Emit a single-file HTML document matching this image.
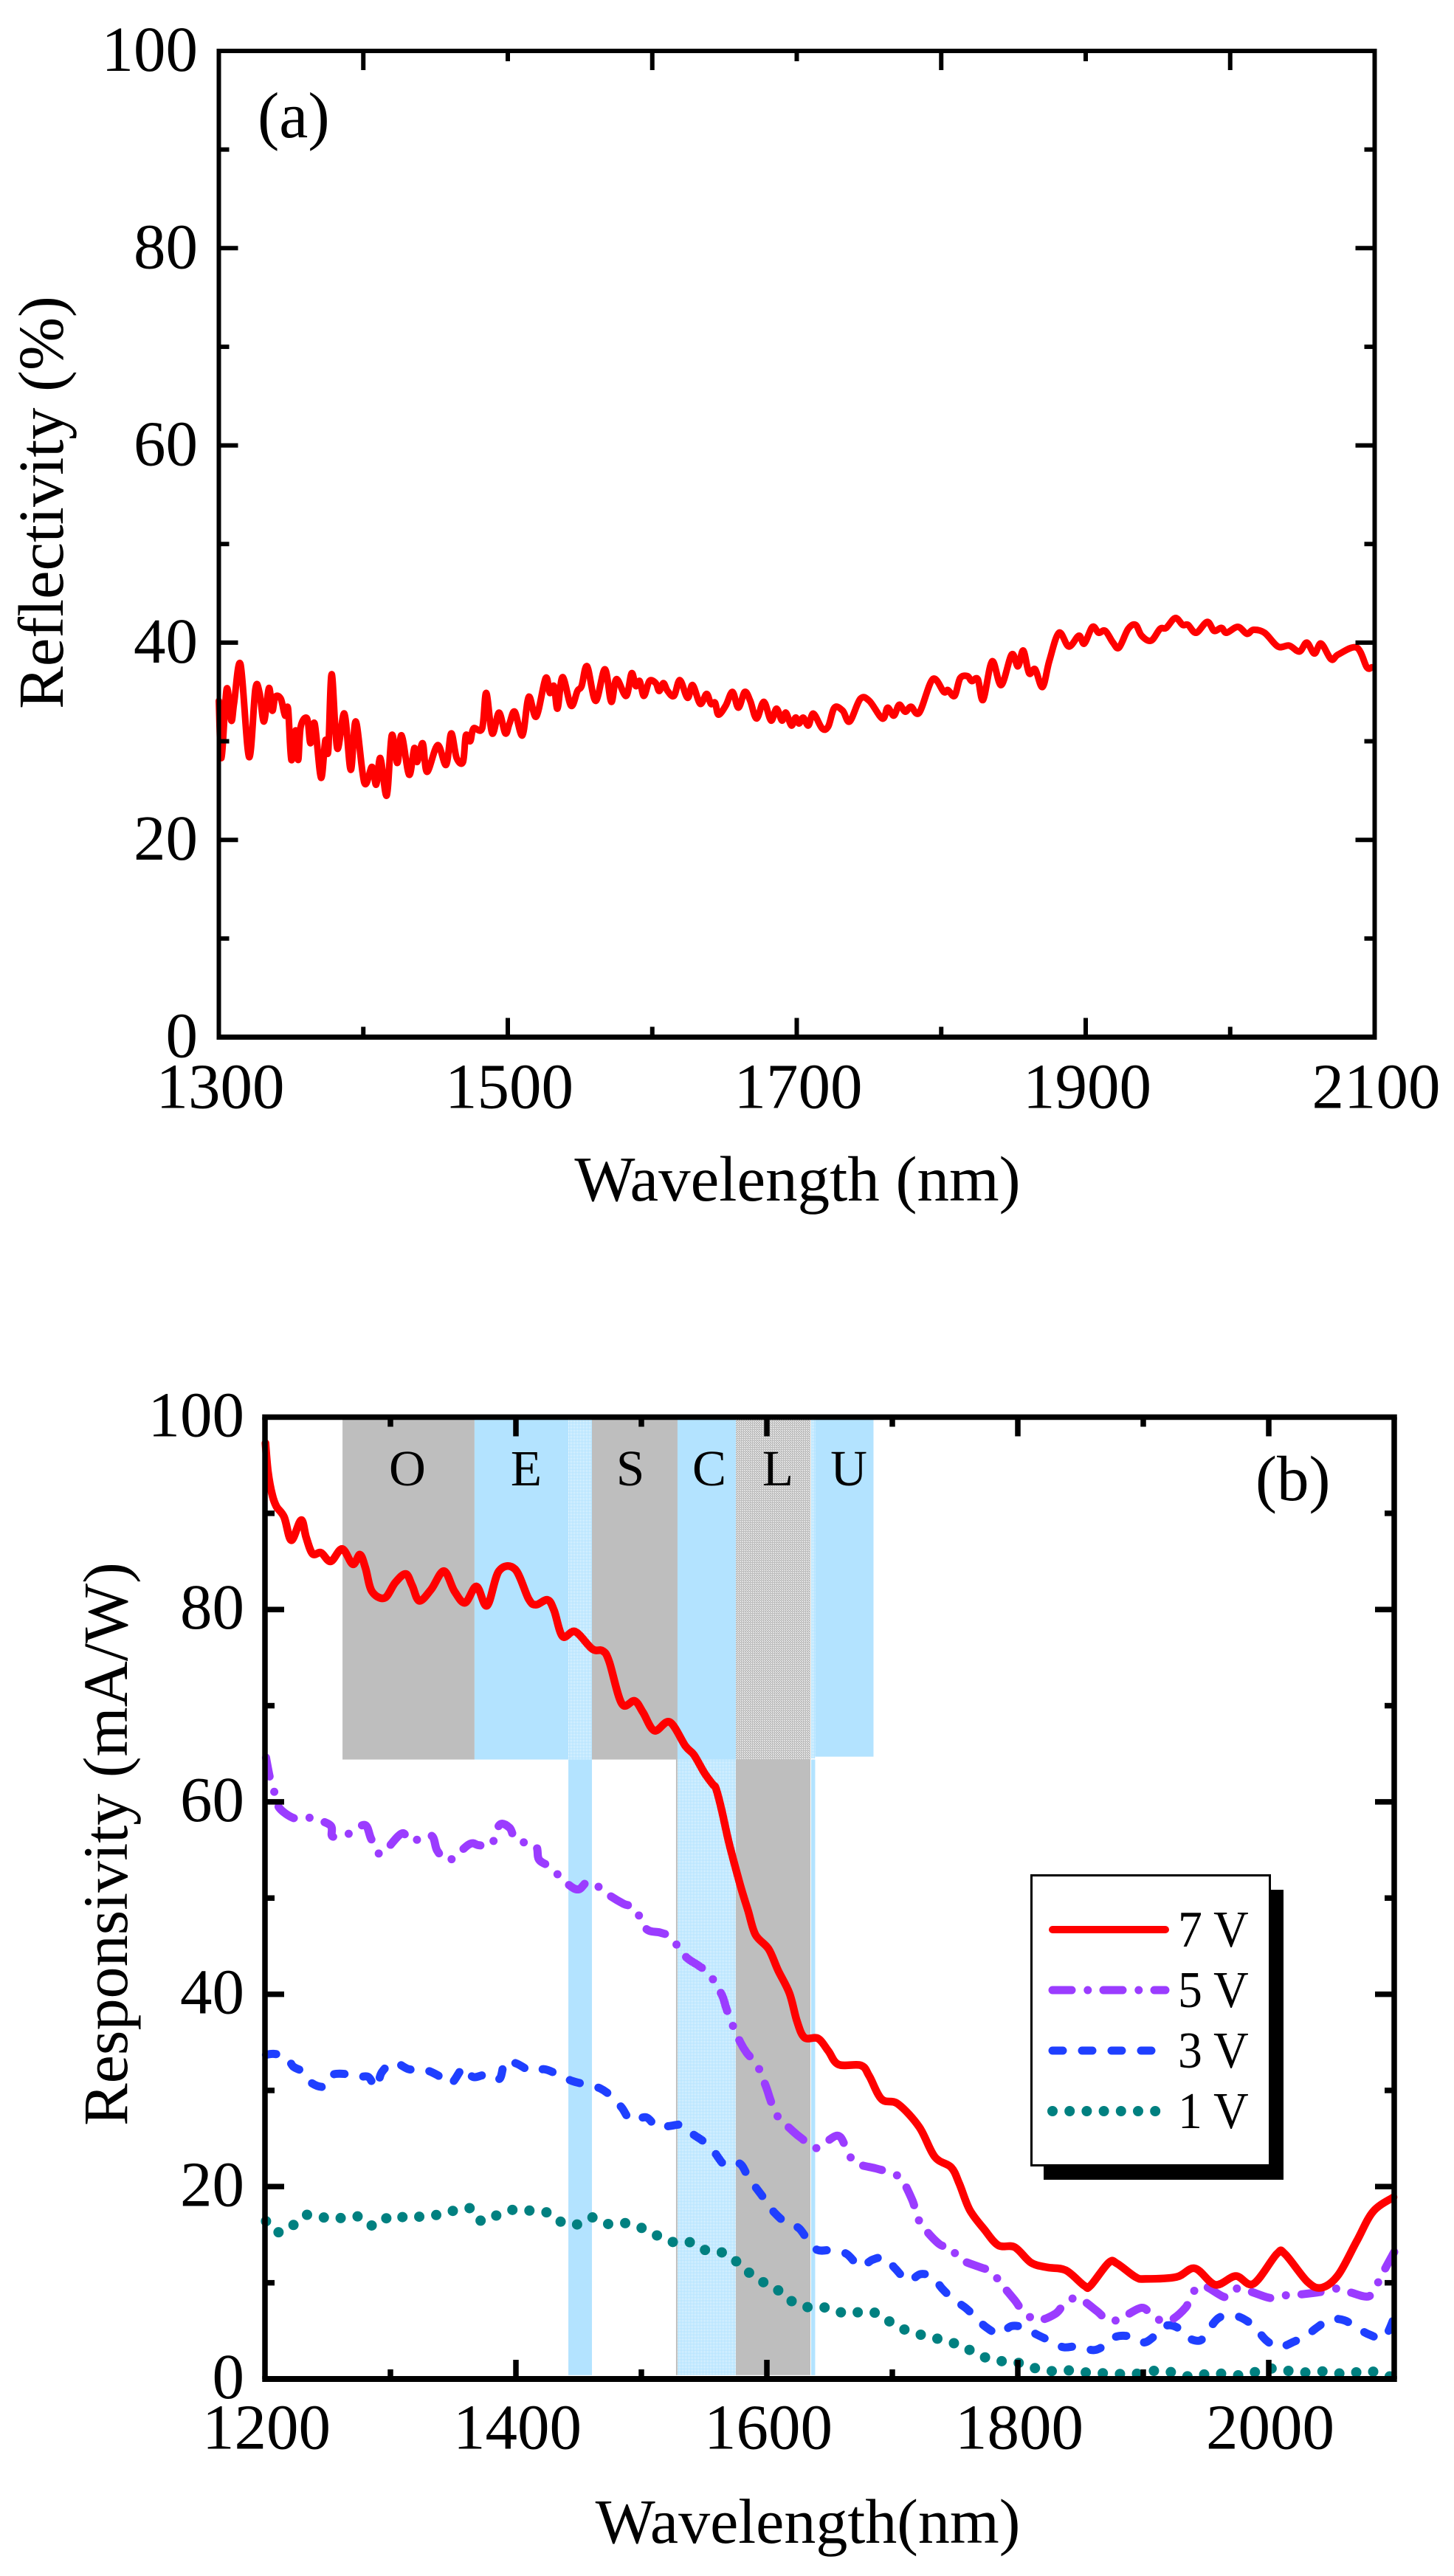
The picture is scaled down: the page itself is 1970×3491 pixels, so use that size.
<!DOCTYPE html>
<html lang="en">
<head>
<meta charset="utf-8">
<title>Reflectivity and responsivity spectra</title>
<style>
html,body{margin:0;padding:0;background:#fff;}
svg{display:block;}
text{font-family:"Liberation Serif",serif;fill:#000;}
</style>
</head>
<body>
<svg id="figure" xmlns="http://www.w3.org/2000/svg" width="1970" height="3491" viewBox="0 0 1970 3491">
  <defs>
    <pattern id="dither-blue" patternUnits="userSpaceOnUse" width="2" height="2"><rect width="2" height="2" fill="#b3e3ff"/><rect width="1" height="1" fill="#fff"/></pattern>
    <pattern id="dither-gray" patternUnits="userSpaceOnUse" width="3" height="3"><rect width="3" height="3" fill="#bebebe"/><rect width="1" height="1" fill="#fff"/><rect x="1" y="1" width="1" height="1" fill="#fff"/></pattern>
  </defs>
  <rect width="1970" height="3491" fill="#fff"/>
</svg>
<script>
// ---- Panel (a) data ----
const aWavelength = [1300,1301.8,1305.4,1308.6,1310.6,1315,1320.9,1325.3,1328.2,1331.2,1334.7,1337,1339.1,1342.9,1345.8,1347.9,1350.2,1353.2,1354.9,1356.7,1361.1,1363.4,1366.3,1370.7,1373.7,1375.7,1378.1,1381.9,1386.9,1391.3,1394.8,1400.7,1406,1408.9,1411.8,1416.2,1419.7,1423.5,1426.5,1431.7,1435.3,1437.3,1441.1,1444.1,1451.4,1457.3,1460.8,1464.6,1469,1471,1474,1476.3,1482.2,1485.1,1489.2,1493.9,1498.3,1501.2,1504.8,1510.1,1514.5,1519.7,1526.2,1529.1,1532,1534.4,1537.9,1543.8,1548.2,1551.1,1554.9,1560.8,1567.2,1571.6,1575.2,1581.9,1585.7,1588.6,1591.3,1594.2,1598,1602.4,1604.8,1607.7,1610.6,1615,1619.1,1624.4,1627.9,1633.2,1637.6,1640.6,1643.5,1645.8,1650.8,1655.5,1659.6,1664,1667.8,1672.2,1677.2,1682.2,1686,1689.8,1692.5,1696.3,1699.2,1701.6,1704.5,1708,1711.5,1717.6,1721.8,1726.1,1731.8,1736.6,1744,1750.2,1759.3,1762.9,1767.2,1770.9,1775.1,1779.1,1784.8,1794.1,1801.8,1804.6,1809.2,1813.1,1818.2,1821.1,1825.3,1829,1835.2,1841.5,1848.8,1853.1,1856.8,1860.8,1865,1870.1,1874.9,1881.5,1888.3,1895.3,1899,1904.7,1909,1913.5,1918.9,1923.1,1929.4,1934.5,1938.7,1945.2,1951.5,1955.7,1962,1967.1,1970.8,1976.4,1984.1,1988.9,1994,1997.4,2005.3,2011.6,2016.1,2023.8,2033.1,2040.8,2047.9,2053,2058.3,2062.9,2070,2074.8,2087.6,2094.6,2098];
const aReflectivity = [34.1,28.3,35.3,32.1,33.9,37.8,28.4,35.3,34.9,32,35.4,33.1,34.5,34.3,32.6,33.3,28.1,31.1,28.1,31.5,32.3,29.8,31.8,26.3,30.1,29,36.8,29.3,32.8,27.1,32,25.8,27.4,25.6,28.3,24.5,30.6,27.8,30.6,26.6,29.3,27.9,29.8,26.9,29.6,27.6,30.8,28.3,27.9,30.6,30,31.3,31.3,34.9,30.8,32.9,30.8,31.8,33,30.6,34.5,32.5,36.4,34.9,35.6,33.3,36.5,33.6,35.1,35.6,37.6,34.1,37.3,34,36.3,34.6,36.9,35.6,36.1,34.6,36.1,35.9,35.1,35.9,35.1,34.6,36.2,34.4,35.7,33.8,34.8,33.8,33.9,32.7,33.6,35,33.4,35,34.1,32.3,34,32.1,33.3,32.1,32.9,31.6,32.4,31.8,32.4,31.6,32.8,31.3,31.5,33.4,33.1,32,34.3,34.1,32.3,33.4,32.6,33.7,33,33.5,32.9,36.3,35,35.2,34.6,36.4,36.6,36.1,36.3,34.2,38.1,35.7,38.8,37.6,39.2,36.9,37.3,35.5,38.2,41,39.6,40.7,39.9,41.6,41,41.2,40,39.5,41.4,41.8,40.7,40.2,41.4,41.5,42.5,41.8,41.8,41,42.1,41.2,41.5,41,41.6,40.9,41.3,41,39.6,39.7,39.1,40,38.9,39.9,38.3,38.8,39.5,37.5,37.5];
const aXTickValues = [1300,1400,1500,1600,1700,1800,1900,2000,2100];
const aXTickLabels = [1300,1500,1700,1900,2100];
const aYTickValues = [0,10,20,30,40,50,60,70,80,90,100];
const aYTickLabels = [0,20,40,60,80,100];

// ---- Panel (b) data ----
const wl7V = [1200.4,1202.4,1205.8,1209.2,1215.3,1221,1228.8,1232.8,1237.9,1244.7,1252.4,1261.5,1270,1275.7,1280.1,1285.2,1295.3,1303.8,1312.2,1317.3,1323,1332.5,1342.6,1351,1359.5,1368.6,1377,1386.5,1399.3,1410.1,1415.9,1425.3,1430.4,1437.2,1447.3,1460.8,1469.2,1474.3,1484.4,1494.6,1501.3,1510.4,1522.6,1535.1,1541.8,1550.3,1557,1559.4,1563.9,1569.9,1578.9,1585,1590.9,1601.4,1608.9,1618,1624,1630,1640.8,1649,1657.1,1675,1681.6,1691.4,1704.4,1721.4,1733.8,1746.9,1753.4,1761.6,1773,1784.4,1797.5,1810.5,1823.6,1838.3,1853,1857.9,1872.5,1879.1,1893.8,1901.9,1926.4,1941.1,1957.4,1973.7,1987.8,2006.4,2012.9,2030.9,2042.3,2055.3,2070,2083.1,2099.4];
const resp7V = [97.3,94.3,91.9,90.7,89.6,87.2,89.3,87.5,85.8,85.9,85,86.3,84.7,85.7,84.3,81.9,81.2,82.8,83.7,82.5,80.9,82.1,84,81.9,80.7,82.4,80.4,84,84.2,81.1,80.5,81,79.9,77.2,77.7,75.9,75.7,74.6,70.2,70.5,69.3,67.4,68.3,65.8,64.9,63,61.8,61.4,59.2,55.7,51.3,48.7,46.2,44.7,42.5,40.1,37.2,35.5,35.4,34.1,32.7,32.6,31.5,29.1,28.6,26.2,23.1,22,20.3,17.6,15.6,13.9,13.7,12.1,11.6,11.3,9.7,9.7,12.1,12,10.6,10.4,10.6,11.5,9.8,10.7,9.9,13,13,10.1,9.5,10.8,14.3,17.4,18.9];
const wl5V = [1200.8,1204.1,1207.5,1211.3,1223.3,1233.8,1251.8,1253.9,1265.3,1279.4,1284.8,1292.3,1308.8,1316.3,1332.3,1337.4,1346.4,1362.9,1370.4,1380.3,1386.9,1395,1400.4,1415.4,1418.4,1427.4,1440.9,1449.9,1458.9,1475.4,1485.9,1494.9,1503.9,1515.3,1523.4,1535.4,1545.3,1554,1563.9,1567.5,1571.4,1578.9,1584,1592.4,1599.3,1602.9,1607.4,1620.4,1627.8,1639.2,1656.1,1663.6,1670.2,1686.5,1697.3,1707.1,1715.9,1719.1,1724,1737.7,1746.9,1753.4,1770.4,1778.9,1786.7,1797.5,1804,1815.4,1830.1,1837.6,1848.1,1862.7,1871.6,1880.7,1898.7,1907.5,1919.9,1933.6,1938.5,1947.6,1965.6,1974.4,1985.2,2002.1,2013.5,2026,2043.9,2054.3,2065.1,2079.8,2087,2092.9,2100];
const resp5V = [64.6,62.4,61,59.4,58.3,58.4,57.6,56.4,56.6,57.6,56.1,54.6,56.7,55.9,56.5,54.9,53.9,55.6,55.5,55.5,57.6,57.3,56,55.5,54,53.2,51.5,50.9,51.7,50.2,49.4,48.9,46.8,46.4,45.9,43.9,43,42.1,40,38.6,37.2,35,33.9,32.6,30.4,29,27.5,25.8,25,24,25.3,23.9,22.5,21.9,21.5,20.8,18.6,17.2,15.9,14,13.7,12.5,11.6,11.2,9.9,8.2,7.1,6.1,6.8,7.9,8.4,7.1,6.1,6.2,7.4,6.5,6,7.4,8.8,9.7,8.5,9.4,9.1,8.4,8.7,8.8,9.1,9.4,9,8.6,10,11.5,13.2];
const wl3V = [1200.8,1206.8,1217.3,1222.4,1230.8,1236.8,1247.3,1253.3,1265.3,1274.3,1282.4,1288.7,1293.2,1302.8,1314.8,1326.2,1337.4,1347.9,1358.4,1365.9,1377.9,1386.9,1391.4,1400.4,1412.4,1422.9,1434.3,1444.5,1455.9,1467.3,1476.9,1484.4,1491.9,1503.9,1512.3,1522.5,1532.4,1540.5,1549.5,1558,1567,1578.3,1585.5,1592.4,1599.9,1606,1616.4,1625.4,1632.9,1640.5,1652.2,1663.6,1674.4,1684.2,1694,1702.2,1712.6,1722.4,1732.2,1739.7,1748.5,1758.3,1766.5,1774.6,1785.1,1795.2,1805.6,1815.4,1826.8,1836.6,1848.1,1860.5,1869.3,1878.4,1890.5,1900.3,1908.4,1917.3,1926.4,1933.9,1945.3,1952.5,1960.7,1972.1,1981.9,1990,1998.2,2008,2020.4,2030.8,2039,2048.8,2060.2,2070.7,2080.4,2091.9,2100];
const resp3V = [33.7,33.8,33.5,32.5,31.9,30.8,30.4,31.6,31.7,31.4,31.4,30.3,31.9,32.9,32.2,32.2,31.6,30.7,32.4,31.4,31.7,31.2,33,32.8,32,32.2,31.6,31,30.6,30.2,29.3,28.2,26.9,27.2,26.2,26.3,26.4,25.5,24.7,23.6,22.2,22.4,20.9,19.7,18.4,17.3,16.1,15.7,14.4,13.4,13.4,13,11.7,12.4,12.6,11.5,10.2,10.9,10.6,9.4,8.3,7.4,6.4,5.4,4.7,5.5,5.3,4.6,3.9,3.3,3.4,3,3.5,4.4,4.4,3.8,4.4,5.5,5.4,4.4,4,5.2,6.4,6.6,6.1,5.2,4,3.3,3.9,4.6,5.4,6.2,6.1,5.3,4.6,4.3,6.4];
const wl1V = [1200.8,1209.2,1218.8,1231.7,1242.8,1254.8,1266.2,1277,1287.2,1301,1314.8,1328,1340.3,1353.3,1364.6,1372.8,1384.5,1398,1411.5,1425,1434.9,1446.9,1460.4,1473.9,1487.4,1500.3,1512.9,1526.4,1539.3,1552.8,1565.7,1575.9,1587.3,1599.3,1610.4,1622.1,1635.9,1649,1663,1676.7,1688.1,1699.9,1712.3,1725.7,1738.7,1751.8,1763.5,1776.9,1790.3,1803.7,1817,1830.8,1844.8,1858.2,1871.6,1885.6,1899,1912.7,1926.1,1939.8,1953.2,1966.5,1980.3,1994,2007,2020.7,2033.8,2047.5,2060.9,2074.6,2086,2097.8];
const resp1V = [16.4,15.3,15.6,17,16.9,16.6,16.9,16.8,15.9,17,16.7,17,17.1,17.6,17.7,16.4,17,17.6,17.5,17.3,16.4,16,16.8,16.1,16.2,15.7,14.9,14.2,14.2,13.3,13.1,12.2,10.9,9.9,9.1,7.9,7.4,7.4,6.8,7,6.8,5.8,5,4.5,4.1,3.6,2.9,2.1,1.8,1.6,1,0.8,0.9,0.6,0.6,0.5,0.6,0.9,0.6,0.2,0.6,0.5,0.4,0.9,1.1,0.7,0.7,0.8,0.5,0.8,0.7,0.2];
const bXTickValues = [1200,1300,1400,1500,1600,1700,1800,1900,2000,2100];
const bXTickLabels = [1200,1400,1600,1800,2000];
const bYTickValues = [0,10,20,30,40,50,60,70,80,90,100];
const bYTickLabels = [0,20,40,60,80,100];
// Telecom band shading (nm and mA/W extents)
const bandNames  = ['O','E','E-gap','S','C','L','L-gap','U','E-lower','C-edge','C-lower','L-lower','L-gap-lower'];
const bandStart  = [1261.8,1367,1441.8,1460.6,1528.8,1575.3,1635.3,1638.5,1441.8,1527.6,1528.8,1575.3,1635.3];
const bandEnd    = [1367,1441.8,1460.6,1528.8,1575.3,1634.7,1638.5,1685,1460.6,1528.8,1575.3,1634.7,1638.5];
const bandTop    = [100,100,100,100,100,100,100,100,64.4,64.4,64.4,64.4,64.4];
const bandBottom = [64.4,64.4,64.4,64.4,64.4,64.3,64.5,64.7,0.4,0.4,0.4,0.4,0.4];
const bandKinds  = ['gray','blue','dither-blue','gray','blue','dither-gray','dither-blue','blue','blue','gray','dither-blue','gray','blue'];
const bandLetters = ['O','E','S','C','L','U'];
const bandLetterCentres = [1313.5,1408.2,1491.2,1554.1,1608.8,1665.3];

// ---- Axis functions ----
const xA = v => 296.5 + (v - 1300) * 1.9575;
const yA = v => 1405.5 - v * 13.365;
const xB = v => 359 + (v - 1200) * 1.7;
const yB = v => 3224 - v * 13.035;

const svg = document.getElementById('figure');
const NS = 'http://www.w3.org/2000/svg';
const fills = {gray:'#bebebe', blue:'#b3e3ff', 'dither-blue':'url(#dither-blue)', 'dither-gray':'url(#dither-gray)'};

function make(tag, attrs, parent) {
  const el = document.createElementNS(NS, tag);
  for (const k in attrs) el.setAttribute(k, attrs[k]);
  (parent || svg).appendChild(el);
  return el;
}
function makeText(str, x, y, size, sx, anchor, rot) {
  const el = make('text', {
    'font-size': size,
    'text-anchor': anchor,
    transform: 'translate(' + x + ',' + y + ') scale(' + sx + ',1)' + (rot ? ' rotate(' + rot + ')' : '')
  });
  el.textContent = str;
  return el;
}
function smoothPath(xs, ys) {
  let d = 'M' + xs[0].toFixed(1) + ' ' + ys[0].toFixed(1);
  for (let i = 0; i < xs.length - 1; i++) {
    const i0 = Math.max(0, i - 1), i3 = Math.min(xs.length - 1, i + 2);
    const c1x = xs[i] + (xs[i + 1] - xs[i0]) / 6, c1y = ys[i] + (ys[i + 1] - ys[i0]) / 6;
    const c2x = xs[i + 1] - (xs[i3] - xs[i]) / 6, c2y = ys[i + 1] - (ys[i3] - ys[i]) / 6;
    d += 'C' + c1x.toFixed(1) + ' ' + c1y.toFixed(1) + ' ' + c2x.toFixed(1) + ' ' + c2y.toFixed(1) + ' ' + xs[i + 1].toFixed(1) + ' ' + ys[i + 1].toFixed(1);
  }
  return d;
}
function drawSeries(parent, wl, vals, xf, yf, color, width, dash) {
  const attrs = {d: smoothPath(wl.map(xf), vals.map(yf)), fill: 'none', stroke: color, 'stroke-width': width, 'stroke-linejoin': 'round', 'stroke-linecap': 'round'};
  if (dash) attrs['stroke-dasharray'] = dash;
  return make('path', attrs, parent);
}
function drawFrame(parent, prefix, xf, yf, xMin, xMax, yMin, yMax, sw, swBottom, major, minor, xTicks, yTicks, topMajorOffset, bottomMajorOffset) {
  const L = xf(xMin), R = xf(xMax), T = yf(yMax), B = yf(yMin);
  const tickW = sw;
  xTicks.forEach(function (v, i) {
    if (v === xMin || v === xMax) return;
    const bLen = (i % 2 === bottomMajorOffset) ? major : minor;
    const tLen = (i % 2 === topMajorOffset) ? major : minor;
    const tb = make('line', {x1: xf(v), x2: xf(v), y1: B, y2: B - bLen, stroke: '#000', 'stroke-width': tickW}, parent);
    
    
    const tt = make('line', {x1: xf(v), x2: xf(v), y1: T, y2: T + tLen, stroke: '#000', 'stroke-width': tickW}, parent);
    
    
  });
  yTicks.forEach(function (v) {
    if (v === yMin || v === yMax) return;
    const len = (v % 20 === 0) ? major : minor;
    const tl = make('line', {x1: L, x2: L + len, y1: yf(v), y2: yf(v), stroke: '#000', 'stroke-width': tickW}, parent);
    
    
    const tr = make('line', {x1: R, x2: R - len, y1: yf(v), y2: yf(v), stroke: '#000', 'stroke-width': tickW}, parent);
    
    
  });
  const sides = [['left', L, T, L, B, sw], ['right', R, T, R, B, sw], ['top', L - sw / 2, T, R + sw / 2, T, sw], ['bottom', L - sw / 2, B, R + sw / 2, B, swBottom]];
  sides.forEach(function (s) {
    const ln = make('line', {x1: s[1], y1: s[2], x2: s[3], y2: s[4], stroke: '#000', 'stroke-width': s[5]}, parent);
    
    
  });
}

// ---- Panel (a) ----
const panelA = make('g', {});



const seriesA = drawSeries(panelA, aWavelength, aReflectivity, xA, yA, '#ff0000', 9);



drawFrame(panelA, 'panel-a', xA, yA, 1300, 2100, 0, 100, 6, 7, 26, 14, aXTickValues, aYTickValues, 1, 0);

aXTickLabels.forEach(function (v) {
  const t = makeText(String(v), xA(v) + 2, 1501.5, 87, 1, 'middle');
  panelA.appendChild(t);
  
  
});
aYTickLabels.forEach(function (v) {
  const t = makeText(String(v), 268, yA(v) + 27, 87, 1, 'end');
  panelA.appendChild(t);
  
  
});
const aXTitle = makeText('Wavelength (nm)', 1080.5, 1627, 87, 1, 'middle');
panelA.appendChild(aXTitle);


const aYTitle = makeText('Reflectivity (%)', 85, 681, 86.5, 1, 'middle', -90);
panelA.appendChild(aYTitle);


const aTag = makeText('(a)', 349, 186, 88, 1, 'start');
panelA.appendChild(aTag);



// ---- Panel (b) ----
const panelB = make('g', {});



bandNames.forEach(function (name, i) {
  const r = make('rect', {
    x: xB(bandStart[i]),
    y: yB(bandTop[i]),
    width: xB(bandEnd[i]) - xB(bandStart[i]),
    height: yB(bandBottom[i]) - yB(bandTop[i]),
    fill: fills[bandKinds[i]]
  }, panelB);
  
  
});
bandLetters.forEach(function (letter, i) {
  const t = makeText(letter, xB(bandLetterCentres[i]), 2013, 69, 1, 'middle');
  panelB.appendChild(t);
  
  
});

const dash5 = '26 21.8 0 21.2';
const dash3 = '14 26';
const dot1 = '0 23.2';
const line1 = drawSeries(panelB, wl1V, resp1V, xB, yB, '#008080', 14, dot1);


const line3 = drawSeries(panelB, wl3V, resp3V, xB, yB, '#1f3fff', 11, dash3);


const line5 = drawSeries(panelB, wl5V, resp5V, xB, yB, '#9b3cff', 11, dash5);


const line7 = drawSeries(panelB, wl7V, resp7V, xB, yB, '#ff0000', 10.5);



drawFrame(panelB, 'panel-b', xB, yB, 1200, 2100, 0, 100, 7.5, 8, 26, 13, bXTickValues, bYTickValues, 0, 0);

bXTickLabels.forEach(function (v) {
  const t = makeText(String(v), xB(v) + 2, 3318.5, 87, 1, 'middle');
  panelB.appendChild(t);
  
  
});
bYTickLabels.forEach(function (v) {
  const t = makeText(String(v), 331, yB(v) + 26, 87, 1, 'end');
  panelB.appendChild(t);
  
  
});
const bXTitle = makeText('Wavelength(nm)', 1094.5, 3446, 86, 1, 'middle');
panelB.appendChild(bXTitle);


const bYTitle = makeText('Responsivity (mA/W)', 172, 2499, 86.2, 1, 'middle', -90);
panelB.appendChild(bYTitle);


const bTag = makeText('(b)', 1701, 2033, 87, 1, 'start');
panelB.appendChild(bTag);



// ---- Legend ----
const legend = make('g', {}, panelB);


const legendShadow = make('rect', {x: 1414, y: 2561, width: 325, height: 393, fill: '#000'}, legend);


const legendBox = make('rect', {x: 1397.5, y: 2541.5, width: 323, height: 393, fill: '#fff', stroke: '#000', 'stroke-width': 3}, legend);



const legendLabels = ['7 V', '5 V', '3 V', '1 V'];
const legendColors = ['#ff0000', '#9b3cff', '#1f3fff', '#008080'];
const legendWidths = [10, 11, 11, 14];
const legendDashes = ['', dash5, dash3, dot1];
const legendEnds = [1579, 1579, 1564, 1573];
const legendStart = [1426, 1426, 1426, 1426];
legendLabels.forEach(function (label, i) {
  const yc = 2615 + i * 82;
  const attrs = {x1: legendStart[i], x2: legendEnds[i], y1: yc, y2: yc, stroke: legendColors[i], 'stroke-width': legendWidths[i], 'stroke-linecap': 'round'};
  if (legendDashes[i]) attrs['stroke-dasharray'] = legendDashes[i];
  const sample = make('line', attrs, legend);
  
  
  const t = makeText(label, 1596, yc + 23, 70, 0.94, 'start');
  legend.appendChild(t);
  
  
});
</script>
</body>
</html>
